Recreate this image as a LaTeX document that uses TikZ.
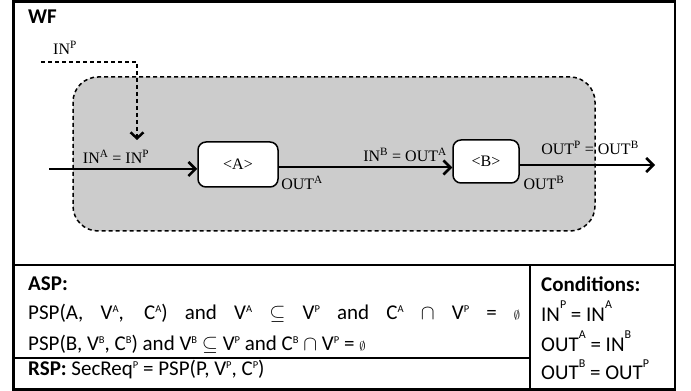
\documentclass[tikz,border=0pt]{standalone}
\usepackage{fontspec}
\setmainfont{Carlito}
\newfontfamily\serifrm{Liberation Serif}
\usetikzlibrary{positioning,arrows.meta}
% small raised indices as in the table text
\newcommand{\hi}[1]{\raisebox{0.75ex}{\fontsize{10.5}{10.5}\selectfont #1}}
\newcommand{\hii}[1]{\raisebox{13pt}{\fontsize{12}{12}\selectfont #1}}

\begin{document}
\begin{tikzpicture}[x=1pt,y=1pt,
  frameline/.style={line width=2.5pt},
  container/.style={draw,dashed,dash pattern=on 4pt off 3pt,line width=1.5pt,rounded corners=25pt,fill=fillColor},
  block/.style={draw,line width=1.5pt,rounded corners=8pt,fill=white},
  flow/.style={line width=2pt,-{Straight Barb[length=7pt,width=14pt,line width=2.5pt]}},
  lbl/.style={font=\serifrm\fontsize{16}{18}\selectfont,inner sep=0pt},
  txt/.style={font=\fontsize{21}{24}\selectfont,inner sep=0pt,anchor=base west}]
\definecolor{fillColor}{RGB}{204,204,204}
\path[use as bounding box,fill=white] (0,0) rectangle (691,391);

% frame
\draw[frameline] (13.5,1.5) rectangle (675,389.5);
\draw[frameline] (13.5,126) -- (675,126);
\draw[frameline] (530,126) -- (530,1.5);
\draw[frameline] (13.5,33) -- (530,33);

\node[txt,font=\bfseries\fontsize{21}{24}\selectfont] (wf) at (28,367) {WF};

% composite process
\node[container,minimum width=522pt,minimum height=154pt] (proc) at (334,237) {};
\node[block,minimum width=80pt,minimum height=45pt] (A) at (238,226.5) {};
\node[lbl] (Alab) at (A) {<A>};
\node[block,minimum width=66pt,minimum height=43pt] (B) at (486,229.5) {};
\node[lbl] (Blab) at (B) {<B>};

\coordinate (src) at (49,222);
\coordinate (sink) at (655,226);
\coordinate (inp) at (41,329);
\coordinate (inptip) at (137,251);

\draw[flow] (src) -- (src -| A.west);
\draw[flow] ([yshift=-3pt]A.east) -- ([yshift=-3pt]A.east -| B.west);
\draw[flow] (sink -| B.east) -- (sink);
\draw[flow,dash pattern=on 4pt off 3pt,line width=1.5pt,-{Straight Barb[length=6pt,width=13pt,line width=2.5pt]}] (inp) -| (inptip);

\node[lbl] (inP) at (65,343) {IN\textsuperscript{P}};
\node[lbl] (inA) at (116,234) {IN\textsuperscript{A} = IN\textsuperscript{P}};
\node[lbl] (outA) at (302,208) {OUT\textsuperscript{A}};
\node[lbl] (inB) at (405,236) {IN\textsuperscript{B} = OUT\textsuperscript{A}};
\node[lbl] (outP) at (590,243) {OUT\textsuperscript{P} = OUT\textsuperscript{B}};
\node[lbl] (outB) at (544,208) {OUT\textsuperscript{B}};

% table part
\node[txt] (asp) at (28,100) {\textbf{ASP:}};
\node[txt] (asp1) at (28,71) {\makebox[492pt][s]{PSP(A, V\hi{A}, C\hi{A}) and V\hi{A} $\subseteq$ V\hi{P} and C\hi{A} $\cap$ V\hi{P} = \scalebox{0.6}{$\emptyset$}}};
\node[txt] (asp2) at (28,40) {PSP(B, V\hi{B}, C\hi{B}) and V\hi{B} $\subseteq$ V\hi{P} and C\hi{B} $\cap$ V\hi{P} = \scalebox{0.6}{$\emptyset$}};
\node[txt] (rsp) at (28,15) {\textbf{RSP:} SecReq\hi{P} = PSP(P, V\hi{P}, C\hi{P})};

\node[txt] (cond) at (541,99) {\textbf{Conditions:}};
\node[txt] (cond1) at (541,69) {IN\hii{P} = IN\hii{A}};
\node[txt] (cond2) at (541,39) {OUT\hii{A} = IN\hii{B}};
\node[txt] (cond3) at (541,11) {OUT\hii{B} = OUT\hii{P}};
\end{tikzpicture}
\end{document}
